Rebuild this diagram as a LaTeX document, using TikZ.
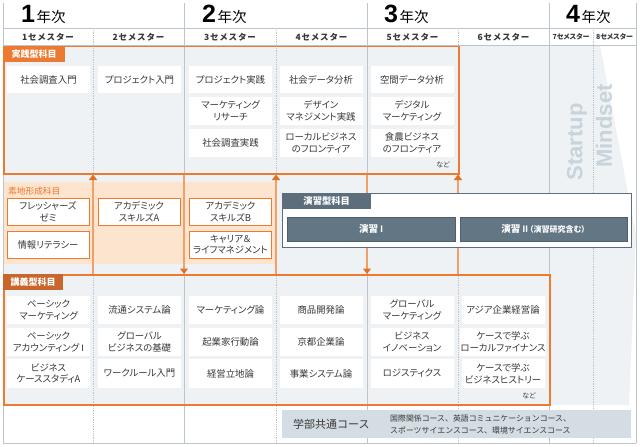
\documentclass[tikz,border=0pt]{standalone}
\usepackage{fontspec}
\newfontfamily\jp[RawFeature=+palt]{Noto Sans CJK JP}
\newfontfamily\jpn{Noto Sans CJK JP}
\newfontfamily\jpsp[LetterSpace=10]{Noto Sans CJK JP}
\newfontfamily\lat{Liberation Sans}
\usetikzlibrary{arrows.meta}
\definecolor{bggray}{HTML}{EEF2F5}
\definecolor{gridc}{HTML}{BCC5CC}
\definecolor{orng}{HTML}{EC7A30}
\definecolor{orngdark}{HTML}{C8662C}
\definecolor{peach}{HTML}{FDE4CF}
\definecolor{arrline}{HTML}{F0A068}
\definecolor{arrhead}{HTML}{E4701F}
\definecolor{slate}{HTML}{5C6E7B}
\definecolor{slatebar}{HTML}{627684}
\definecolor{slatedark}{HTML}{4F606C}
\definecolor{coursegray}{HTML}{D4DDE3}
\definecolor{txtc}{HTML}{383838}
\definecolor{sugray}{HTML}{C9D3DA}
\newcommand\yearlbl[1]{{\lat\bfseries\fontsize{25}{25}\selectfont #1}\hspace{1.5pt}{\jpn\fontsize{14.5}{15}\selectfont 年次}}
\begin{document}
\begin{tikzpicture}[x=1pt,y=-1pt,
  gridline/.style={draw=gridc, line width=0.8pt},
  semline/.style={draw=gridc, line width=0.8pt, densely dotted},
  yearlabel/.style={anchor=base west, inner sep=0, text=black},
  semlabel/.style={inner sep=0, text=txtc, font=\jpsp\bfseries\fontsize{8.5}{10}\selectfont},
  semlabelsm/.style={inner sep=0, text=txtc, font=\jp\bfseries\fontsize{7}{9}\selectfont},
  item/.style={fill=white, inner sep=0, minimum width=83pt, minimum height=27.5pt, align=center, text=txtc, font=\jp\fontsize{9.4}{11.8}\selectfont},
  fitem/.style={item, draw=orng, line width=0.9pt, minimum width=82pt, minimum height=27pt},
  obox/.style={draw=orng, line width=1.5pt, inner sep=0, anchor=north west},
  otab/.style={fill=orng, inner sep=0, anchor=north west, text=white, font=\jp\bfseries\fontsize{9}{10}\selectfont},
  uparr/.style={draw=arrline, line width=1.2pt, -{Triangle[width=8pt,length=5.5pt,color=arrhead]}},
  small/.style={inner sep=0, text=txtc, font=\jp\fontsize{7}{8}\selectfont},
  bar/.style={fill=slatebar, draw=slatedark, line width=0.6pt, inner sep=0, minimum height=24pt, text=white, font=\jp\bfseries\fontsize{9.5}{11}\selectfont}
]
\useasboundingbox (0,0) rectangle (640,447);
\fill[white] (0,0) rectangle (640,447);
% content background
\fill[bggray] (3,45) -- (600,45) -- (636,235) -- (629,405) -- (3,405) -- cycle;
% peach region
\fill[peach] (3,182) rectangle (277,264);
% grid
\foreach \x in {3,184,367,549,636} \draw[gridline] (\x,3) -- (\x,443);
\foreach \x in {93,276,458,593} \draw[semline] (\x,28) -- (\x,443);
\draw[gridline] (3,28) -- (636,28);
\draw[gridline] (3,45) -- (636,45);
\draw[gridline] (3,443) -- (636,443);

% year labels
\node[yearlabel] (y1) at (21,23) {\yearlbl{1}};
\node[yearlabel] (y2) at (202,23) {\yearlbl{2}};
\node[yearlabel] (y3) at (384,23) {\yearlbl{3}};
\node[yearlabel] (y4) at (566,23) {\yearlbl{4}};

% semester labels
\node[semlabel] (s1) at (48,37) {1セメスター};
\node[semlabel] (s2) at (138.5,37) {2セメスター};
\node[semlabel] (s3) at (230,37) {3セメスター};
\node[semlabel] (s4) at (321.5,37) {4セメスター};
\node[semlabel] (s5) at (412.5,37) {5セメスター};
\node[semlabel] (s6) at (503.5,37) {6セメスター};
\node[semlabelsm] (s7) at (571,37) {7セメスター};
\node[semlabelsm] (s8) at (614.5,37) {8セメスター};

% Startup Mindset
\node[rotate=90, inner sep=0, text=sugray, font=\lat\bfseries\fontsize{22}{22}\selectfont] (su) at (577,142) {Startup};
\node[rotate=90, inner sep=0, text=sugray, font=\lat\bfseries\fontsize{22}{22}\selectfont] (mi) at (604,126) {Mindset};

% main boxes
\node[obox, minimum width=455pt, minimum height=127.5pt] (pbox) at (3,45.5) {};
\node[obox, minimum width=546pt, minimum height=130pt] (lbox) at (3,274) {};

% arrows
\coordinate (ax1) at (93,0);
\coordinate (ax2) at (276,0);
\coordinate (ax3) at (458,0);
\coordinate (dx1) at (184,0);
\coordinate (dx2) at (367,0);
\draw[uparr] (lbox.north -| ax1) -- (pbox.south -| ax1);
\draw[uparr] (lbox.north -| ax2) -- (pbox.south -| ax2);
\draw[uparr] (lbox.north -| ax3) -- (pbox.south -| ax3);
\draw[uparr] (pbox.south -| dx1) -- (lbox.north -| dx1);
\draw[uparr] (pbox.south -| dx2) -- (lbox.north -| dx2);

% tabs
\node[otab, minimum width=62pt, minimum height=16.5pt] (ptab) at (3,45.5) {実践型科目};
\node[otab, fill=orngdark, minimum width=60pt, minimum height=16pt] (ltab) at (3,274) {講義型科目};

% practice items
\node[item] (p11) at (48.5,79.5) {社会調査入門};
\node[item] (p21) at (139.5,79.5) {プロジェクト入門};
\node[item] (p31) at (230.5,79.5) {プロジェクト実践};
\node[item] (p32) at (230.5,111) {マーケティング\\リサーチ};
\node[item] (p33) at (230.5,143) {社会調査実践};
\node[item] (p41) at (321,79.5) {社会データ分析};
\node[item] (p42) at (321,111) {デザイン\\マネジメント実践};
\node[item] (p43) at (321,143) {ローカルビジネス\\のフロンティア};
\node[item] (p51) at (412,79.5) {空間データ分析};
\node[item] (p52) at (412,111) {デジタル\\マーケティング};
\node[item] (p53) at (412,143) {食農ビジネス\\のフロンティア};
\node[small] (pnado) at (443,165) {など};

% foundation
\node[inner sep=0, anchor=west, text=orng, font=\jp\fontsize{8.7}{10}\selectfont] (flbl) at (8,191) {素地形成科目};
\node[fitem] (f11) at (48,212) {フレッシャーズ\\ゼミ};
\node[fitem] (f12) at (48,244.5) {情報リテラシー};
\node[fitem] (f21) at (139,212) {アカデミック\\スキルズA};
\node[fitem] (f31) at (230.5,212) {アカデミック\\スキルズB};
\node[fitem] (f32) at (230.5,244.5) {キャリア＆\\ライフマネジメント};

% exercise box
\node[draw=slate, line width=1pt, fill=white, inner sep=0, anchor=north west, minimum width=349pt, minimum height=54pt] (ebox) at (282,193) {};
\node[fill=slate, inner sep=0, anchor=north west, minimum width=89pt, minimum height=16pt, text=white, font=\jp\bfseries\fontsize{9.3}{10}\selectfont] (etab) at (282,193) {演習型科目};
\node[bar, minimum width=168pt] (e1) at (371,229) {演習 {\lat\bfseries I}};
\node[bar, minimum width=167pt] (e2) at (543.5,229) {演習 {\lat\bfseries II}\,{\fontsize{8}{9}\selectfont（演習研究含む）}};

% lecture items
\node[item, minimum height=28pt] (l11) at (48.5,310) {ベーシック\\マーケティング};
\node[item, minimum height=28pt] (l12) at (48.5,342) {ベーシック\\アカウンティング {\lat I}};
\node[item, minimum height=28.5pt] (l13) at (48.5,373.5) {ビジネス\\ケーススタディA};
\node[item, minimum height=28pt] (l21) at (139.5,310) {流通システム論};
\node[item, minimum height=28pt] (l22) at (139.5,342) {グローバル\\ビジネスの基礎};
\node[item, minimum height=28.5pt] (l23) at (139.5,373.5) {ワークルール入門};
\node[item, minimum height=28pt] (l31) at (230.5,310) {マーケティング論};
\node[item, minimum height=28pt] (l32) at (230.5,342) {起業家行動論};
\node[item, minimum height=28.5pt] (l33) at (230.5,373.5) {経営立地論};
\node[item, minimum height=28pt] (l41) at (321,310) {商品開発論};
\node[item, minimum height=28pt] (l42) at (321,342) {京都企業論};
\node[item, minimum height=28.5pt] (l43) at (321,373.5) {事業システム論};
\node[item, minimum height=28pt] (l51) at (412,310) {グローバル\\マーケティング};
\node[item, minimum height=28pt] (l52) at (412,342) {ビジネス\\イノベーション};
\node[item, minimum height=28.5pt] (l53) at (412,373.5) {ロジスティクス};
\node[item, minimum height=28pt] (l61) at (503,310) {アジア企業経営論};
\node[item, minimum height=28pt] (l62) at (503,342) {ケースで学ぶ\\ローカルファイナンス};
\node[item, minimum height=28.5pt] (l63) at (503,373.5) {ケースで学ぶ\\ビジネスヒストリー};
\node[small] (lnado) at (529,396) {など};

% common course
\node[fill=coursegray, inner sep=0, anchor=north west, minimum width=349pt, minimum height=28pt] (cbox) at (282,410) {};
\node[inner sep=0, anchor=west, text=txtc, font=\jpn\fontsize{11}{12}\selectfont] (ctitle) at (293,424) {学部共通コース};
\node[inner sep=0, anchor=west, align=left, text=txtc, font=\jpn\fontsize{7.9}{12}\selectfont] (csub) at (390,424) {国際関係コース、英語コミュニケーションコース、\\スポーツサイエンスコース、環境サイエンスコース};
\end{tikzpicture}
\end{document}
